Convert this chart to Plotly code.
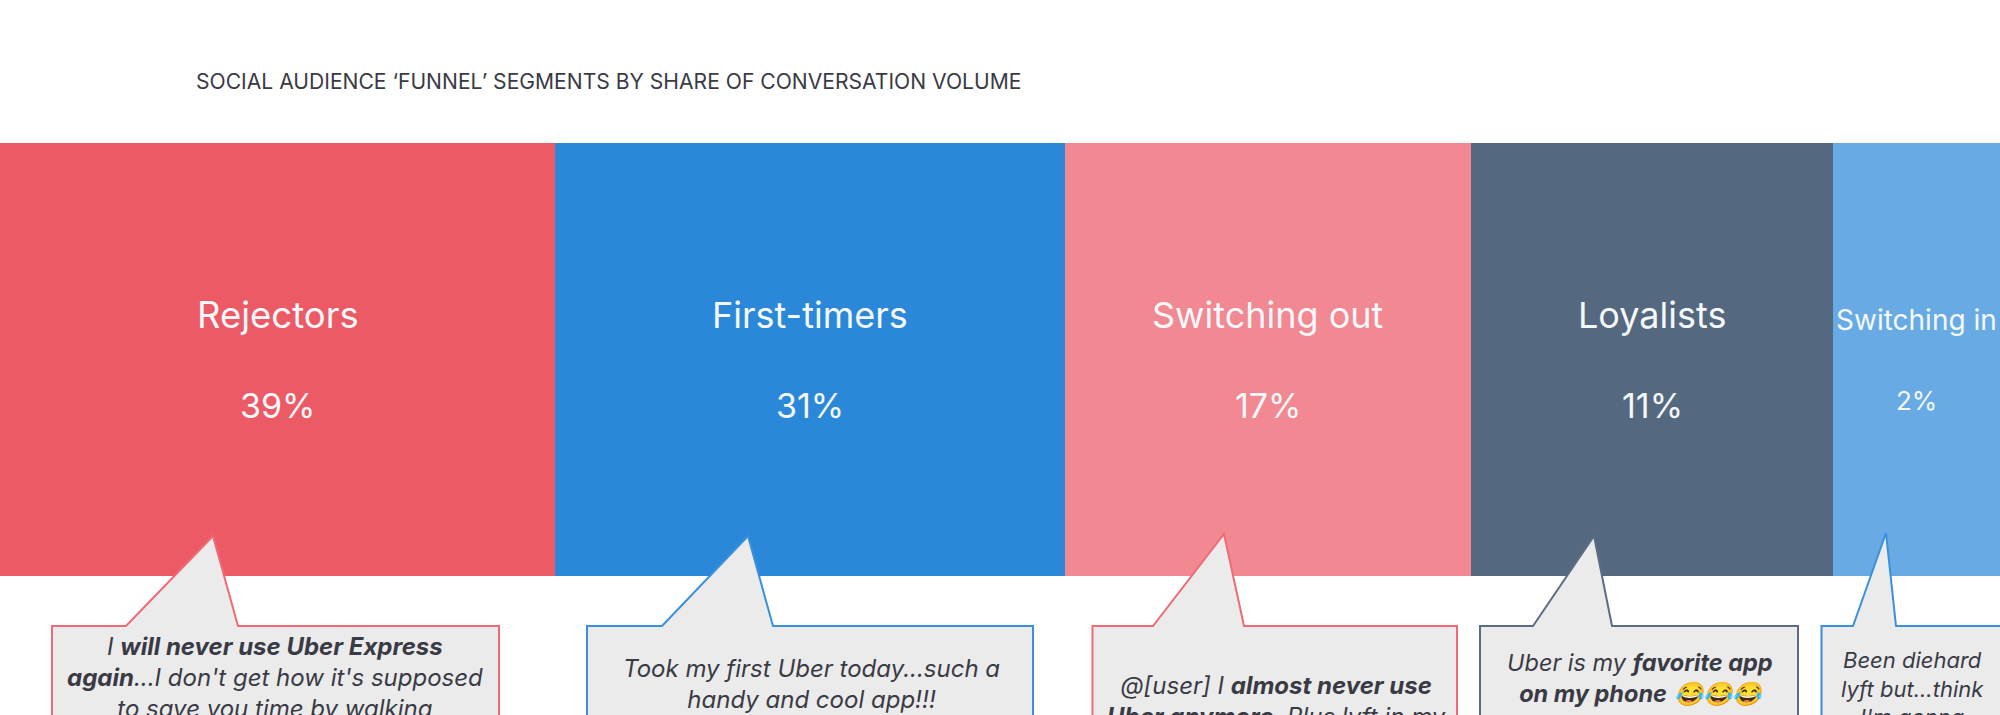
import plotly.graph_objects as go

categories = ["Rejectors", "First-timers", "Switching out", "Loyalists", "Switching in"]
shares = [39, 31, 17, 11, 2]
segment_widths = [555, 510, 406, 362, 167]
colors = ["#EC5A66", "#2B88D8", "#F28891", "#54687F", "#68AAE3"]
outlines = ["#EE6A75", "#3A90DC", "#EE6A75", "#5A6D84", "#3A90DC"]
quotes = [
    "I <b>will never use Uber Express</b><br><b>again</b>...I don't get how it's supposed<br>to save you time by walking",
    "Took my first Uber today...such a<br>handy and cool app!!!",
    "@[user] I <b>almost never use</b><br><b>Uber anymore</b>. Plus lyft in my",
    "Uber is my <b>favorite app</b><br><b>on my phone</b> \U0001F602\U0001F602\U0001F602",
    "Been diehard<br>lyft but...think<br>I'm gonna",
]
title = "SOCIAL AUDIENCE \u2018FUNNEL\u2019 SEGMENTS BY SHARE OF CONVERSATION VOLUME"

# layout geometry (page pixels)
BAR_TOP, BAR_BOTTOM = 143, 576
BOX_TOP, BOX_BOTTOM = 626, 760
box_left = [52, 587, 1092.5, 1480, 1821.5]
box_right = [499, 1033, 1457, 1798, 2030]
tip_x = [213, 748, 1224, 1594, 1886]
tip_y = [536, 536, 534, 536, 533]
base_left = [126, 662, 1153, 1533, 1853]
base_right = [238, 773, 1244, 1612, 1896]
quote_x = [275, 811, 1276, 1640, 1912]
quote_y = [644, 666, 683, 660, 659]
quote_size = [24, 24, 24, 23.5, 22]
name_size = [36.5, 36, 36, 36, 28]
pct_size = [34, 34, 34, 34, 26]
name_y = [315, 315, 315, 315, 320]
pct_y = [405, 405, 405, 405, 400]
FONT = "Inter"
INK = "#3A3A45"

lefts = [sum(segment_widths[:i]) for i in range(len(segment_widths))]
centers = [l + w / 2 for l, w in zip(lefts, segment_widths)]

fig = go.Figure(go.Bar(
    x=centers, y=[BAR_BOTTOM - BAR_TOP] * len(categories), base=BAR_TOP,
    width=segment_widths, marker=dict(color=colors, line_width=0),
    customdata=shares, text=None, hoverinfo="skip",
))

for i in range(len(categories)):
    path = (f"M{box_left[i]},{BOX_TOP} L{base_left[i]},{BOX_TOP} L{tip_x[i]},{tip_y[i]} "
            f"L{base_right[i]},{BOX_TOP} L{box_right[i]},{BOX_TOP} L{box_right[i]},{BOX_BOTTOM} "
            f"L{box_left[i]},{BOX_BOTTOM} Z")
    fig.add_shape(type="path", path=path, xref="x", yref="y", layer="above",
                  fillcolor="#EBEBEB", line=dict(color=outlines[i], width=2))
    fig.add_annotation(x=centers[i], y=name_y[i], text=categories[i], showarrow=False,
                       font=dict(family=FONT, size=name_size[i], color="#F4F8FA"))
    fig.add_annotation(x=centers[i], y=pct_y[i], text=f"{shares[i]}%", showarrow=False,
                       font=dict(family=FONT, size=pct_size[i], color="#F4F8FA"))
    fig.add_annotation(x=quote_x[i], y=quote_y[i] - 14, yanchor="top", text=f"<i>{quotes[i]}</i>",
                       showarrow=False, align="center",
                       font=dict(family=FONT, size=quote_size[i], color=INK))

fig.add_annotation(x=194, y=81, xanchor="left", text=title, showarrow=False,
                   font=dict(family=FONT, size=21.1, color=INK))

fig.update_layout(
    width=2000, height=715, margin=dict(l=0, r=0, t=0, b=0),
    paper_bgcolor="white", plot_bgcolor="white", showlegend=False, bargap=0,
    xaxis=dict(range=[0, 2000], visible=False, fixedrange=True),
    yaxis=dict(range=[715, 0], visible=False, fixedrange=True),
)
fig.write_html("out.html", config=dict(displayModeBar=False),
               post_script="document.body.style.margin='0';document.body.style.overflow='hidden';")
